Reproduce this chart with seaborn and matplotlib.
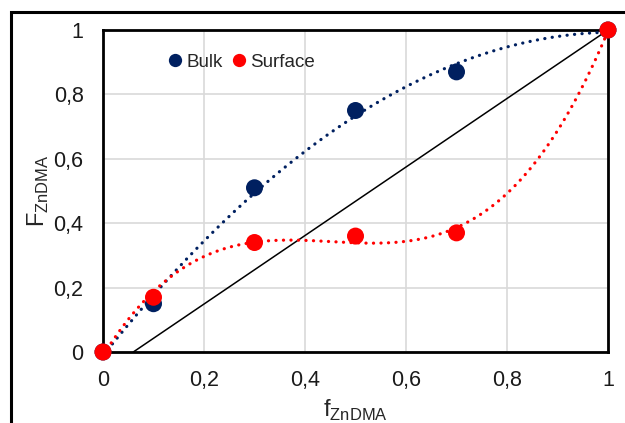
import numpy as np
import pandas as pd
import matplotlib
matplotlib.use("Agg")
import matplotlib.pyplot as plt
import seaborn as sns
from matplotlib.patches import Rectangle

# Feed fraction of ZnDMA and copolymer composition
f_feed = [0.0, 0.1, 0.3, 0.5, 0.7, 1.0]
F_bulk = [0.0, 0.15, 0.51, 0.75, 0.87, 1.0]
F_surface = [0.0, 0.17, 0.34, 0.36, 0.37, 1.0]

# Reference line
ref_x = [0.06, 1.0]
ref_y = [0.0, 1.0]

tick_vals = [0, 0.2, 0.4, 0.6, 0.8, 1]
tick_labels = ["0", "0,2", "0,4", "0,6", "0,8", "1"]

bulk_color = "#002060"
surface_color = "#FF0000"

sns.set_style("white")
plt.rcParams["font.family"] = ["Liberation Sans", "DejaVu Sans"]

fig = plt.figure(figsize=(6.25, 4.23), dpi=100)
ax = fig.add_axes([103 / 625, 1 - 352 / 423, 505 / 625, 322 / 423])

# Outer frame
fig.patches.append(Rectangle((11 / 625, -0.1), 1.2, 1 - 12 / 423 + 0.1,
                             transform=fig.transFigure, fill=False,
                             edgecolor="black", linewidth=2.2, zorder=0))

# Polynomial trend lines
xs = np.linspace(0, 1, 300)
bulk_fit = np.polyval(np.polyfit(f_feed, F_bulk, 2), xs)
surf_fit = np.polyval(np.polyfit(f_feed, F_surface, 3), xs)
dots = (0, (0.05, 2.3))
sns.lineplot(x=xs, y=bulk_fit, ax=ax, color=bulk_color, linewidth=2.3,
             linestyle=dots, dash_capstyle="round", zorder=3)
sns.lineplot(x=xs, y=surf_fit, ax=ax, color=surface_color, linewidth=2.3,
             linestyle=dots, dash_capstyle="round", zorder=3)

sns.lineplot(x=ref_x, y=ref_y, ax=ax, color="black", linewidth=1.1, zorder=2)

df = pd.DataFrame({
    "f": f_feed * 2,
    "F": F_bulk + F_surface,
    "series": ["Bulk"] * len(f_feed) + ["Surface"] * len(f_feed),
})
sns.scatterplot(data=df, x="f", y="F", hue="series",
                palette={"Bulk": bulk_color, "Surface": surface_color},
                s=150, edgecolor=None, linewidth=0, ax=ax, zorder=4,
                clip_on=False)

ax.set_xlim(0, 1)
ax.set_ylim(0, 1)
ax.set_xticks(tick_vals)
ax.set_xticklabels(tick_labels)
ax.set_yticks(tick_vals)
ax.set_yticklabels(tick_labels)
ax.tick_params(axis="both", length=0, labelsize=15.5, colors="#1a1a1a")
ax.tick_params(axis="x", pad=13)
ax.tick_params(axis="y", pad=14)
ax.grid(True, color="#d9d9d9", linewidth=1.2)
ax.set_axisbelow(True)
for sp in ax.spines.values():
    sp.set_visible(True)
    sp.set_color("black")
    sp.set_linewidth(2.0)

ax.set_xlabel(r"f$_{\mathregular{ZnDMA}}$", fontsize=17, labelpad=5)
ax.set_ylabel(r"F$_{\mathregular{ZnDMA}}$", fontsize=17)
ax.yaxis.set_label_coords(-0.103, 0.5)

leg = ax.legend(loc="center left", bbox_to_anchor=(0.124, 0.90), ncol=2,
                frameon=False, fontsize=13.5, handlelength=1.0,
                handletextpad=0.1, columnspacing=0.35, markerscale=0.78,
                borderpad=0, borderaxespad=0)

fig.savefig("out.png", dpi=100)
